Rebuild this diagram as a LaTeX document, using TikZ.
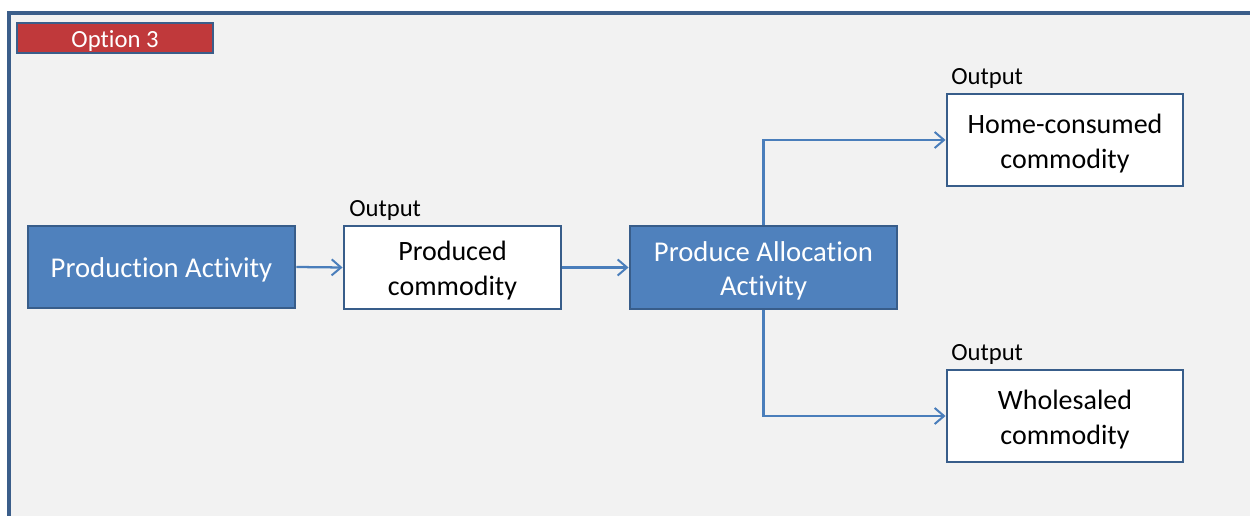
\documentclass[tikz,border=0pt]{standalone}
\usepackage{fontspec}
\setmainfont{Carlito}[RawFeature={-liga;-calt;-clig;-dlig}]
\usetikzlibrary{arrows.meta}
\definecolor{frameblue}{HTML}{3B5E8A}
\definecolor{actfill}{HTML}{4F81BD}
\definecolor{actborder}{HTML}{385D8A}
\definecolor{arrowblue}{HTML}{4A7EBB}
\definecolor{optred}{HTML}{C0393B}
\definecolor{bggray}{HTML}{F2F2F2}
\tikzset{
  activity/.style={draw=actborder, fill=actfill, line width=2.2pt, inner sep=0pt},
  commodity/.style={draw=actborder, fill=white, line width=2.2pt, inner sep=0pt},
  acttext/.style={text=white, align=center, font=\fontsize{21.5}{26}\selectfont, inner sep=0pt},
  comtext/.style={text=black, align=center, font=\fontsize{21}{26}\selectfont, inner sep=0pt},
  outlabel/.style={font=\fontsize{18.5}{20}\selectfont, anchor=base west, inner sep=0pt},
  flow/.style={draw=arrowblue, line width=1.7pt, -{Straight Barb[length=7pt,width=12pt,line width=1.5pt]}},
}
\begin{document}
\begin{tikzpicture}[x=0.75pt,y=-0.75pt]
\useasboundingbox (0,0) rectangle (1250,516);
\fill[white] (0,0) rectangle (1250,516);
\fill[bggray] (9,13) rectangle (1260,530);
\draw[frameblue, line width=2.4pt] (9,530) -- (9,13) -- (1260,13);
% Option 3 tag
\path[draw=frameblue, fill=optred, line width=1.8pt] (17,23) rectangle (213,53);
\node[text=white, font=\fontsize{18.5}{20}\selectfont, inner sep=0pt] (optlabel) at (115,41) {Option 3};
% boxes
\node[activity, minimum width=200.25pt, minimum height=61.5pt] (prod) at (161.5,267) {};
\node[commodity, minimum width=162.75pt, minimum height=62.25pt] (pc) at (452.5,267.5) {};
\node[activity, minimum width=200.25pt, minimum height=62.25pt] (alloc) at (763.5,267.5) {};
\node[commodity, minimum width=177pt, minimum height=69pt] (home) at (1065,140) {};
\node[commodity, minimum width=177pt, minimum height=69pt] (whole) at (1065,416) {};
% box texts
\node[acttext] (prodt) at ([yshift=-2.5pt]prod.center) {Production Activity};
\node[comtext] (pct) at ([yshift=-2.5pt]pc.center) {Produced\\commodity};
\node[acttext] (alloct) at ([yshift=-2.5pt]alloc.center) {Produce Allocation\\Activity};
\node[comtext] (homet) at ([yshift=-2.5pt]home.center) {Home-consumed\\commodity};
\node[comtext] (wholet) at ([yshift=-2.5pt]whole.center) {Wholesaled\\commodity};
% output labels
\node[outlabel] (o1) at (349,217) {Output};
\node[outlabel] (o2) at (951,85) {Output};
\node[outlabel] (o3) at (951,361) {Output};
% connectors
\draw[flow] (prod.east) -- (pc.west);
\draw[flow] (pc.east) -- (alloc.west);
\draw[flow] (alloc.north) |- (home.west);
\draw[flow] (alloc.south) |- (whole.west);
\end{tikzpicture}
\end{document}
